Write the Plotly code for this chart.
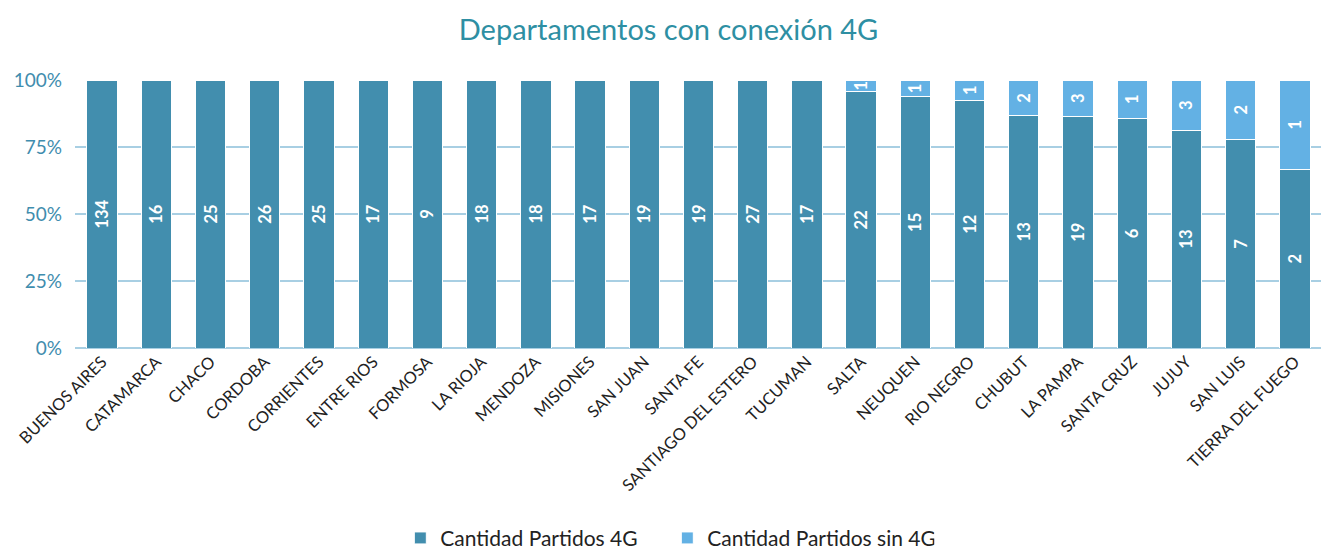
import plotly.graph_objects as go

provincias = ["BUENOS AIRES", "CATAMARCA", "CHACO", "CORDOBA", "CORRIENTES", "ENTRE RIOS",
              "FORMOSA", "LA RIOJA", "MENDOZA", "MISIONES", "SAN JUAN", "SANTA FE",
              "SANTIAGO DEL ESTERO", "TUCUMAN", "SALTA", "NEUQUEN", "RIO NEGRO", "CHUBUT",
              "LA PAMPA", "SANTA CRUZ", "JUJUY", "SAN LUIS", "TIERRA DEL FUEGO"]
con_4g = [134, 16, 25, 26, 25, 17, 9, 18, 18, 17, 19, 19, 27, 17, 22, 15, 12, 13, 19, 6, 13, 7, 2]
sin_4g = [0, 0, 0, 0, 0, 0, 0, 0, 0, 0, 0, 0, 0, 0, 1, 1, 1, 2, 3, 1, 3, 2, 1]
y_ticks = [0, 25, 50, 75, 100]
y_tick_labels = ["0%", "25%", "50%", "75%", "100%"]

DARK = "#428EAE"
LIGHT = "#63B1E4"
FONT = "Lato, 'Open Sans', sans-serif"

def labels(vals):
    return [str(v) if v else "" for v in vals]

fig = go.Figure()
fig.add_trace(go.Bar(
    x=provincias, y=con_4g, name="Cantidad Partidos 4G",
    marker=dict(color=DARK, line=dict(color="white", width=1)),
    text=labels(con_4g), textposition="inside", insidetextanchor="middle",
    textangle=-90, textfont=dict(color="white", size=16.5, family=FONT, weight="bold"),
    constraintext="none",
))
fig.add_trace(go.Bar(
    x=provincias, y=sin_4g, name="Cantidad Partidos sin 4G",
    marker=dict(color=LIGHT, line=dict(color="white", width=1)),
    text=labels(sin_4g), textposition="inside", insidetextanchor="middle",
    textangle=-90, textfont=dict(color="white", size=16.5, family=FONT, weight="bold"),
    constraintext="none",
))

fig.update_layout(
    barmode="stack", barnorm="percent", bargap=0.44,
    width=1321, height=543,
    margin=dict(l=67, r=7, t=72, b=203, autoexpand=False),
    paper_bgcolor="white", plot_bgcolor="white",
    font=dict(family=FONT),
    uniformtext=dict(minsize=8, mode="show"),
    title=dict(text="Departamentos con conexión 4G", x=0.5, xanchor="center",
               y=0.9595, yanchor="middle",
               font=dict(size=29, color="#2E8FA3", family=FONT)),
    legend=dict(orientation="h", x=0.475, xanchor="center", y=-0.71, yanchor="middle",
                font=dict(size=21, color="#222222", family=FONT), traceorder="normal",
                itemwidth=30, entrywidth=222),
    xaxis=dict(tickangle=-45, tickfont=dict(size=16.5, color="#222222", family=FONT),
               showgrid=False, showline=False, ticks="", automargin=False),
    yaxis=dict(range=[0, 100], tickvals=y_ticks, ticktext=y_tick_labels,
               tickfont=dict(size=19, color="#3F8DAE", family=FONT),
               showgrid=True, gridcolor="#A8CFE3", gridwidth=2,
               zeroline=True, zerolinecolor="#A8CFE3", zerolinewidth=2,
               showline=False, ticks="", ticklabelstandoff=12, automargin=False),
)

fig.write_html("out.html")
